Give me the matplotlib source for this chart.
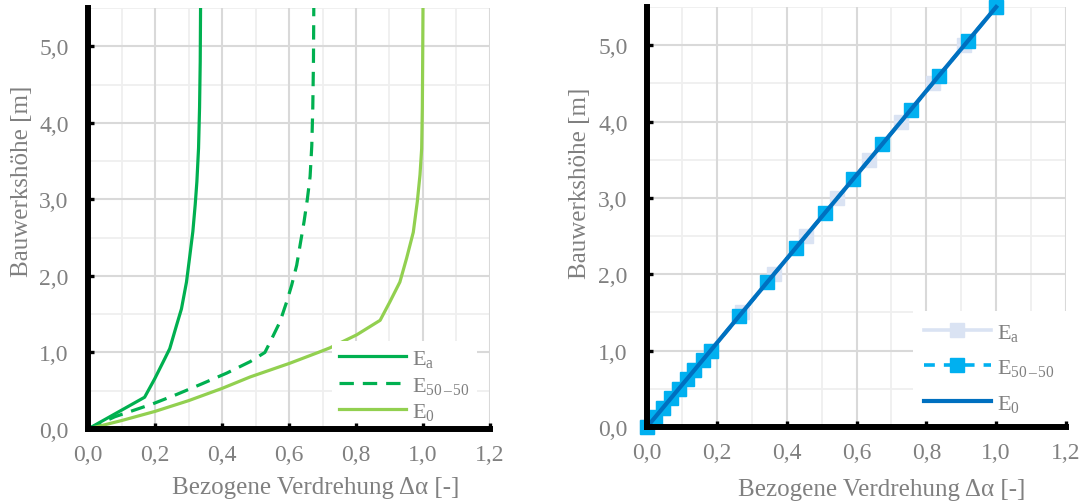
import matplotlib
matplotlib.use("Agg")
import matplotlib.pyplot as plt
from matplotlib.ticker import FixedLocator, MultipleLocator

plt.rcParams['font.family'] = ['Liberation Serif', 'DejaVu Serif']
plt.rcParams['mathtext.fontset'] = 'custom'
plt.rcParams['mathtext.rm'] = 'Liberation Serif'
plt.rcParams['mathtext.it'] = 'Liberation Serif:italic'

# ---- data: left panel (height [m] vs. relative twist) ----
ea_x = [0.0, 0.169, 0.199, 0.229, 0.244, 0.264, 0.279, 0.294, 0.303, 0.313,
        0.320, 0.325, 0.330, 0.333, 0.335, 0.336]
ea_y = [0.0, 0.415, 0.655, 0.917, 1.05, 1.35, 1.57, 1.92, 2.23, 2.58,
        2.93, 3.23, 3.67, 4.20, 4.80, 5.50]

e50_x = [0.0, 0.080, 0.194, 0.264, 0.340, 0.414, 0.484, 0.528, 0.543, 0.573,
         0.593, 0.608, 0.623, 0.633, 0.645, 0.655, 0.663, 0.668, 0.671,
         0.673, 0.674]
e50_y = [0.0, 0.16, 0.33, 0.45, 0.59, 0.73, 0.88, 1.00, 1.13, 1.40,
         1.66, 1.88, 2.14, 2.40, 2.71, 3.01, 3.30, 3.70, 4.20,
         4.80, 5.50]

e0_x = [0.0, 0.10, 0.20, 0.30, 0.40, 0.484, 0.603, 0.693, 0.722, 0.802,
        0.872, 0.901, 0.931, 0.951, 0.971, 0.983, 0.991, 0.996, 0.998,
        0.999, 1.0]
e0_y = [0.0, 0.11, 0.23, 0.37, 0.53, 0.68, 0.86, 1.01, 1.06, 1.23,
        1.42, 1.66, 1.92, 2.23, 2.57, 2.97, 3.32, 3.66, 4.20,
        4.80, 5.50]

# ---- data: right panel ----
r_ea_x = [0.0, 0.045, 0.091, 0.136, 0.182, 0.273, 0.364, 0.455, 0.545,
          0.636, 0.727, 0.818, 0.909, 1.0]
r_ea_y = [0.0, 0.25, 0.50, 0.75, 1.00, 1.50, 2.00, 2.50, 3.00,
          3.50, 4.00, 4.50, 5.00, 5.50]

r_e50_x = [0.0, 0.023, 0.045, 0.068, 0.091, 0.114, 0.136, 0.159, 0.182,
           0.264, 0.345, 0.427, 0.509, 0.591, 0.673, 0.755, 0.836, 0.918, 1.0]
r_e50_y = [0.0, 0.125, 0.25, 0.375, 0.50, 0.625, 0.75, 0.875, 1.00,
           1.45, 1.90, 2.35, 2.80, 3.25, 3.70, 4.15, 4.60, 5.05, 5.50]

r_e0_x = [0.0, 0.182, 0.345, 0.509, 0.673, 0.836, 1.0]
r_e0_y = [0.0, 1.00, 1.90, 2.80, 3.70, 4.60, 5.50]

labels = [r'E$_{\mathrm{a}}$', r'E$_{\mathrm{50\,–\,50}}$', r'E$_{\mathrm{0}}$']

x_ticks = [0.0, 0.2, 0.4, 0.6, 0.8, 1.0, 1.2]
x_ticklabels = ['0,0', '0,2', '0,4', '0,6', '0,8', '1,0', '1,2']
y_ticks = [0.0, 1.0, 2.0, 3.0, 4.0, 5.0]
y_ticklabels = ['0,0', '1,0', '2,0', '3,0', '4,0', '5,0']

xlabel = 'Bezogene Verdrehung Δα [-]'
ylabel = 'Bauwerkshöhe [m]'

W, H = 1082, 502
fig = plt.figure(figsize=(W / 100, H / 100), dpi=100)
ax1 = fig.add_axes([88 / W, (H - 430) / H, 402 / W, 421 / H])
ax2 = fig.add_axes([647 / W, (H - 428) / H, 419 / W, 420 / H])

TXT = '#808080'
FS_TICK = 17
FS_LEG = 16


def style(ax, xlab_pos, ylab_pos):
    ax.set_xlim(0, 1.2)
    ax.set_ylim(0, 5.5)
    ax.xaxis.set_major_locator(FixedLocator(x_ticks))
    ax.yaxis.set_major_locator(FixedLocator(y_ticks))
    ax.set_xticklabels(x_ticklabels)
    ax.set_yticklabels(y_ticklabels)
    ax.xaxis.set_minor_locator(MultipleLocator(0.1))
    ax.yaxis.set_minor_locator(MultipleLocator(0.5))

    # gridlines as plain lines kept underneath the data and the legend
    for v in ax.xaxis.get_minorticklocs():
        ax.axvline(v, color='#efefef', lw=1.3, zorder=0.5)
    for v in ax.yaxis.get_minorticklocs():
        ax.axhline(v, color='#efefef', lw=1.3, zorder=0.5)
    for v in x_ticks:
        ax.axvline(v, color='#d9d9d9', lw=1.5, zorder=0.6)
    for v in y_ticks:
        ax.axhline(v, color='#d9d9d9', lw=1.5, zorder=0.6)

    for s in ('top', 'right'):
        ax.spines[s].set_visible(False)
    for s in ('left', 'bottom'):
        ax.spines[s].set_linewidth(4.3)
        ax.spines[s].set_color('black')
        ax.spines[s].set_zorder(6)
    ax.xaxis.set_zorder(6)
    ax.yaxis.set_zorder(6)
    ax.tick_params(which='major', direction='in', length=4.5, width=2.4,
                   color='black', labelsize=FS_TICK, labelcolor=TXT)
    ax.tick_params(axis='x', which='major', pad=11)
    ax.tick_params(axis='y', which='major', pad=14)
    ax.tick_params(which='minor', length=0)
    ax.set_xlabel(xlabel, fontsize=18, color=TXT)
    ax.set_ylabel(ylabel, fontsize=18, color=TXT)
    ax.xaxis.set_label_coords(*xlab_pos)
    ax.yaxis.set_label_coords(*ylab_pos)
    ax.xaxis.label.set_va('center')
    ax.yaxis.label.set_va('center')


style(ax1, (0.567, -0.138), (-0.164, 0.59))
style(ax2, (0.561, -0.148), (-0.160, 0.583))

# left panel
ax1.plot(ea_x, ea_y, color='#00b050', lw=2.3, label=labels[0], zorder=3)
ax1.plot(e50_x, e50_y, color='#00b050', lw=2.3, ls=(0, (4.5, 2.8)),
         label=labels[1], zorder=3)
ax1.plot(e0_x, e0_y, color='#92d050', lw=2.3, label=labels[2], zorder=3)

leg1 = ax1.legend(loc='lower left', bbox_to_anchor=(0.58, -0.026),
                  fontsize=FS_LEG, frameon=True, facecolor='white',
                  edgecolor='none', framealpha=1, fancybox=False,
                  handlelength=3.0, handletextpad=0.3, labelspacing=0.25,
                  borderpad=0.3)
leg1.set_zorder(5)
for t in leg1.get_texts():
    t.set_color(TXT)

# right panel
ax2.plot(r_ea_x, r_ea_y, color='#dae3f3', lw=2.6, marker='s', ms=10,
         label=labels[0], zorder=3, clip_on=False)
ax2.plot(r_e50_x, r_e50_y, color='#00b0f0', lw=2.6, ls=(0, (3, 2.5)),
         marker='s', ms=10, label=labels[1], zorder=4, clip_on=False)
ax2.plot(r_e0_x, r_e0_y, color='#0070c0', lw=3.0, label=labels[2],
         zorder=4.5, clip_on=False)

leg2 = ax2.legend(loc='lower left', bbox_to_anchor=(0.608, -0.021),
                  fontsize=FS_LEG, frameon=True, facecolor='white',
                  edgecolor='none', framealpha=1, fancybox=False,
                  handlelength=3.0, handletextpad=0.3, labelspacing=0.65,
                  borderpad=0.5)
leg2.set_zorder(5)
for t in leg2.get_texts():
    t.set_color(TXT)

fig.savefig('out.png', dpi=100)
